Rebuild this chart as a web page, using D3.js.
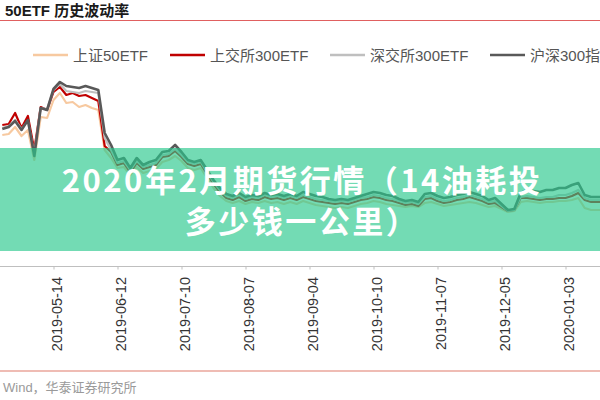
<!DOCTYPE html>
<html><head><meta charset="utf-8">
<script src="https://cdn.jsdelivr.net/npm/d3@7/dist/d3.min.js"></script>
<style>
html,body{margin:0;padding:0;background:#fff;}
svg{display:block;}
</style></head>
<body>
<svg id="chart" width="600" height="400"></svg>
<script>
const seriesNames = ["上证50ETF","上交所300ETF","深交所300ETF","沪深300指数"];
const seriesColors = ["#f7c9a0","#c00000","#bfbfbf","#595959"];
const tickIndex = [8,18,28,38,48,58,68,78,88];
const tickLabels = ["2019-05-14","2019-06-12","2019-07-10","2019-08-07","2019-09-04","2019-10-10","2019-11-07","2019-12-05","2020-01-03"];

const sz50 = [21.1,21.2,21.9,21.0,21.6,18.6,22.9,22.8,24.6,25.3,
24.3,24.4,23.9,24.1,23.8,23.6,19.6,18.8,17.8,17.9,
17.1,17.9,17.3,17.5,17.7,18.4,18.6,19.0,18.5,17.8,
17.6,17.8,16.8,15.8,15.0,14.5,14.3,14.5,14.2,14.4,
14.3,14.5,14.3,14.4,14.2,14.4,14.2,14.5,14.3,14.1,
14.0,13.9,13.8,13.9,13.8,14.0,14.2,14.3,14.5,14.4,
14.2,14.1,14.0,13.9,14.0,13.9,14.3,14.4,14.2,14.0,
14.1,14.2,14.3,14.4,14.3,14.1,13.9,14.0,13.7,13.4,
13.5,14.4,14.5,14.4,14.3,14.4,14.4,14.5,14.5,14.6,
14.8,13.8,13.6,13.6,13.6];
const sh300 = [22.1,22.2,23.3,21.8,23.0,19.6,23.9,23.6,25.4,25.9,
25.1,25.3,25.0,25.1,24.8,24.5,20.0,19.4,18.1,18.3,
17.4,18.3,17.7,17.9,18.1,18.9,19.0,19.5,18.9,18.2,
18.0,18.2,17.2,16.2,15.4,14.8,14.6,14.9,14.5,14.7,
14.6,14.9,14.7,14.8,14.6,14.8,14.6,14.9,14.7,14.5,
14.4,14.3,14.2,14.3,14.2,14.4,14.6,14.7,14.9,14.8,
14.6,14.5,14.3,14.1,14.2,14.0,14.7,14.8,14.5,14.3,
14.4,14.6,14.7,14.9,14.7,14.5,14.2,14.3,13.9,13.5,
13.6,14.8,14.8,14.7,14.6,14.7,14.7,14.8,14.8,15.0,
15.3,14.6,14.4,14.4,14.4];
const sz300 = [21.8,22.0,22.6,21.7,22.5,19.2,23.8,23.7,25.6,26.2,
25.5,25.4,25.3,25.5,25.4,25.3,20.8,19.6,18.3,18.5,
17.6,18.5,17.9,18.1,18.3,19.1,19.2,19.7,19.1,18.4,
18.2,18.4,17.4,16.4,15.6,15.0,14.8,15.1,14.7,14.9,
14.8,15.1,14.9,15.0,14.8,15.0,14.8,15.1,14.9,14.7,
14.6,14.5,14.4,14.5,14.4,14.6,14.8,14.9,15.1,15.0,
14.8,14.7,14.5,14.3,14.4,14.2,14.9,15.0,14.7,14.5,
14.6,14.8,14.9,15.1,14.9,14.7,14.4,14.5,14.0,13.5,
13.6,14.9,15.0,14.9,14.8,14.9,14.9,15.1,15.1,15.3,
15.6,14.8,14.6,14.6,14.6];
const hs300 = [21.7,21.9,22.5,21.6,22.6,19.0,23.8,23.6,25.7,26.4,
26.0,25.9,25.8,26.0,25.8,25.6,21.3,20.1,18.6,18.8,
17.8,18.8,18.1,18.4,18.6,19.4,19.5,20.1,19.4,18.6,
18.4,18.6,17.6,16.6,15.8,15.2,15.0,15.3,14.9,15.1,
15.0,15.3,15.1,15.2,15.0,15.2,15.0,15.4,15.2,15.0,
14.9,14.7,14.6,14.7,14.6,14.8,15.0,15.2,15.4,15.3,
15.1,15.0,14.7,14.5,14.6,14.4,15.2,15.3,15.0,14.8,
14.9,15.1,15.2,15.4,15.2,15.0,14.6,14.8,14.2,13.6,
13.7,15.3,15.6,15.5,15.4,15.6,15.6,15.8,15.8,16.1,
16.3,15.1,14.9,14.9,14.9];
const allSeries = [sz50, sh300, sz300, hs300];

const svg = d3.select("#chart");
const W = 600, H = 400;
const x = d3.scaleLinear().domain([8, 88]).range([53.5, 565.5]);
const y = d3.scaleLinear().domain([0, 30]).range([346, 46]);

// title
svg.append("text").attr("x", 5).attr("y", 16)
  .attr("font-family", "Liberation Sans, Arial, 'Noto Sans CJK SC'")
  .attr("font-weight", "bold").attr("font-size", 15).attr("fill", "#1a1a1a")
  .text("50ETF 历史波动率");
svg.append("line").attr("x1", 0).attr("x2", W).attr("y1", 20.5).attr("y2", 20.5)
  .attr("stroke", "#e06060").attr("stroke-width", 1.2);

// legend
const legX = [33, 170, 330, 490];
const lg = svg.append("g");
seriesNames.forEach((n, i) => {
  lg.append("line").attr("x1", legX[i]).attr("x2", legX[i] + 35).attr("y1", 55).attr("y2", 55)
    .attr("stroke", seriesColors[i]).attr("stroke-width", 2.5);
  lg.append("text").attr("x", legX[i] + 40).attr("y", 60.5)
    .attr("font-family", "Liberation Sans, Arial, 'Noto Sans CJK SC'")
    .attr("font-size", 15).attr("fill", "#555").text(n);
});

// lines
const line = d3.line().x((d, i) => x(i)).y(d => y(d));
allSeries.forEach((s, i) => {
  svg.append("path").datum(s).attr("d", line).attr("fill", "none")
    .attr("stroke", seriesColors[i]).attr("stroke-width", i === 3 ? 2.6 : 2.2)
    .attr("stroke-linejoin", "round");
});

// x axis
svg.append("line").attr("x1", 0).attr("x2", W).attr("y1", 266.5).attr("y2", 266.5)
  .attr("stroke", "#bfbfbf").attr("stroke-width", 1);
const ax = svg.append("g").attr("transform", "translate(0,266.5)")
  .call(d3.axisBottom(x).tickValues(tickIndex).tickSize(3).tickFormat((d, i) => tickLabels[i]));
ax.select(".domain").remove();
ax.selectAll(".tick line").attr("stroke", "#bfbfbf");
ax.selectAll(".tick text")
  .attr("font-family", "Liberation Sans, Arial")
  .attr("font-size", 14.5).attr("fill", "#333")
  .attr("text-anchor", "end")
  .attr("transform", "translate(7.5,10.5) rotate(-90)")
  .attr("x", 0).attr("y", 0).attr("dy", null);

// bottom
svg.append("line").attr("x1", 0).attr("x2", W).attr("y1", 371).attr("y2", 371)
  .attr("stroke", "#e07a6a").attr("stroke-width", 1.2);
svg.append("text").attr("x", 3).attr("y", 391.5)
  .attr("font-family", "Liberation Sans, Arial, 'Noto Sans CJK SC'")
  .attr("font-size", 13).attr("fill", "#9a9a9a").text("Wind，华泰证券研究所");

// banner overlay
svg.append("rect").attr("x", 0).attr("y", 148).attr("width", W).attr("height", 103)
  .attr("fill", "rgb(40,200,140)").attr("fill-opacity", 0.65);
const bannerLines = ["2020年2月期货行情（14油耗投", "多少钱一公里）"];
const bannerY = [192, 233];
bannerLines.forEach((t, i) => {
  svg.append("text").attr("x", 302).attr("y", bannerY[i])
    .attr("text-anchor", "middle")
    .attr("font-family", "'Noto Sans CJK SC', sans-serif").attr("font-weight", "bold")
    .attr("font-size", 31).attr("letter-spacing", 2.5).attr("fill", "#fff").text(t);
});
</script>
</body></html>
